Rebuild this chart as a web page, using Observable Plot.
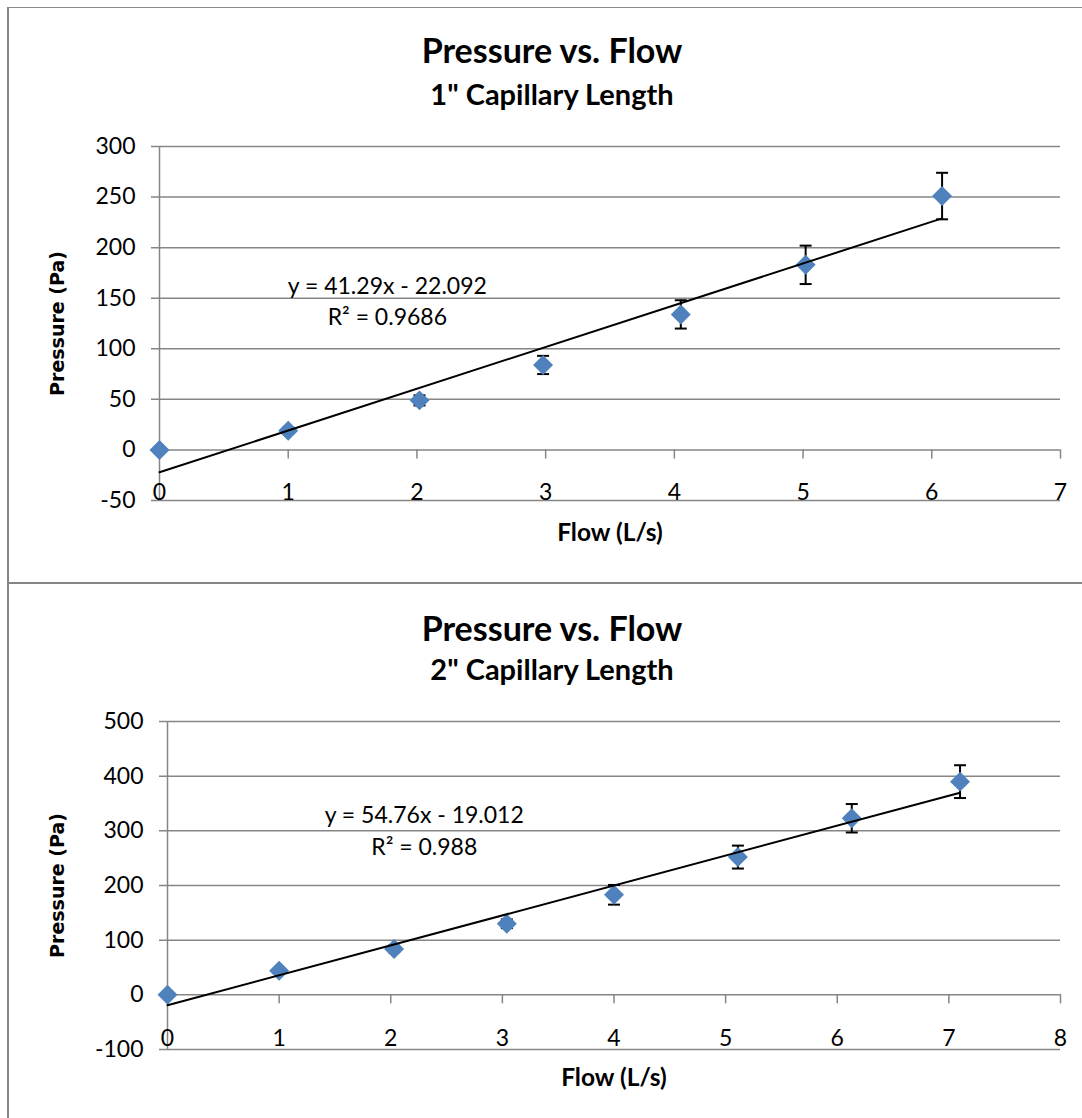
<!DOCTYPE html>
<html><head><meta charset="utf-8">
<script src="https://cdn.jsdelivr.net/npm/d3@7"></script>
<script src="https://cdn.jsdelivr.net/npm/@observablehq/plot@0.6"></script>
<style>
body{margin:0;background:#fff;font-family:Lato,sans-serif;}
#page{position:relative;width:1082px;height:1118px;overflow:hidden;background:#fff;}
.frame{position:absolute;left:7px;width:1100px;border-left:2px solid #868686;}
.title{position:absolute;left:8px;width:1088px;text-align:center;font-weight:bold;color:#000;white-space:nowrap;}
.t1{font-size:34px;line-height:40px;}
.t2{font-size:29px;line-height:34px;}
.chart{position:absolute;left:0;}
.chart svg{display:block;}
</style></head><body><div id="page"></div>
<script>
// ---- Chart 1 data: 1" capillary ----
const flow1 = [0, 1.0, 2.02, 2.98, 4.05, 5.02, 6.08];
const pressure1 = [0, 19, 49, 84, 134, 183, 251];
const error1 = [0, 3, 5, 9, 14, 19, 23];
const slope1 = 41.29, intercept1 = -22.092;
const equation1 = ["y = 41.29x - 22.092", "R² = 0.9686"];
const xTicks1 = [0, 1, 2, 3, 4, 5, 6, 7];
const yTicks1 = [-50, 0, 50, 100, 150, 200, 250, 300];
const title1 = "Pressure vs. Flow";
const subtitle1 = "1\" Capillary Length";

// ---- Chart 2 data: 2" capillary ----
const flow2 = [0, 1.0, 2.03, 3.04, 4.0, 5.11, 6.13, 7.10];
const pressure2 = [0, 44, 84, 130, 183, 252, 323, 390];
const error2 = [0, 4, 6, 8, 18, 21, 26, 30];
const slope2 = 54.76, intercept2 = -19.012;
const equation2 = ["y = 54.76x - 19.012", "R² = 0.988"];
const xTicks2 = [0, 1, 2, 3, 4, 5, 6, 7, 8];
const yTicks2 = [-100, 0, 100, 200, 300, 400, 500];
const title2 = "Pressure vs. Flow";
const subtitle2 = "2\" Capillary Length";

const xLabel = "Flow (L/s)";
const yLabel = "Pressure (Pa)";

const GRID = "#868686";
const BLUE = "#4F81BD";

const tickShape = {draw(ctx, l) { ctx.moveTo(0, 0); ctx.lineTo(0, -l); }};
const capSymbol = {draw(ctx) { ctx.moveTo(-6, 0); ctx.lineTo(6, 0); }};

function makeChart(cfg) {
  const pts = cfg.flow.map((x, i) => ({x, y: cfg.pressure[i], e: cfg.error[i]}));
  const caps = pts.filter(d => d.e > 0).flatMap(d => [{x: d.x, y: d.y - d.e}, {x: d.x, y: d.y + d.e}]);
  const xEnd = d3.max(cfg.flow);
  const trend = [0, xEnd].map(x => ({x, y: cfg.slope * x + cfg.intercept}));
  return Plot.plot({
    width: 1082, height: cfg.height,
    marginTop: cfg.mt, marginBottom: cfg.mb, marginLeft: cfg.ml, marginRight: 22,
    x: {domain: [cfg.xTicks[0], cfg.xTicks[cfg.xTicks.length - 1]], axis: null},
    y: {domain: [cfg.yTicks[0], cfg.yTicks[cfg.yTicks.length - 1]], axis: null},
    style: {fontFamily: "Lato, sans-serif", background: "transparent", overflow: "visible"},
    marks: [
      Plot.ruleY(cfg.yTicks, {y: d => d, stroke: GRID, strokeWidth: 1.5, insetLeft: -8}),
      Plot.ruleX([0], {x: d => d, stroke: GRID, strokeWidth: 1.5}),
      Plot.vector(cfg.xTicks, {x: d => d, y: () => 0, length: 8, rotate: 180, anchor: "start", shape: tickShape, stroke: GRID, strokeWidth: 1.5}),
      Plot.text(cfg.yTicks, {y: d => d, text: d => String(d), frameAnchor: "left", textAnchor: "end", lineAnchor: "middle", dx: -24, fontSize: 23, fill: "#000"}),
      Plot.text(cfg.xTicks, {x: d => d, text: d => String(d), frameAnchor: "bottom", textAnchor: "middle", lineAnchor: "middle", dy: cfg.xTickDy, fontSize: 23, fill: "#000"}),
      Plot.ruleX(pts.filter(d => d.e > 0), {x: "x", y1: d => d.y - d.e, y2: d => d.y + d.e, stroke: "#000", strokeWidth: 2}),
      Plot.dot(caps, {x: "x", y: "y", symbol: capSymbol, fill: "none", stroke: "#000", strokeWidth: 2}),
      Plot.dot(pts, {x: "x", y: "y", symbol: "diamond2", r: 9, fill: BLUE, stroke: "none"}),
      Plot.line(trend, {x: "x", y: "y", stroke: "#000", strokeWidth: 2}),
      Plot.text([cfg.equation.join("\n")], {x: cfg.eqX, y: cfg.eqY, text: d => d, fontSize: 23, lineHeight: cfg.eqLH, fill: "#000"}),
      Plot.text([xLabel], {frameAnchor: "bottom", textAnchor: "middle", lineAnchor: "middle", dy: cfg.xLabDy, text: d => d, fontSize: 24.5, fontWeight: "bold", fill: "#000"}),
      Plot.text([yLabel], {frameAnchor: "left", textAnchor: "middle", lineAnchor: "middle", dx: 57 - cfg.ml, rotate: -90, text: d => d, fontSize: 19, fontWeight: "bold", fontFamily: "DejaVu Sans", fill: "#000"})
    ]
  });
}

const page = document.getElementById("page");
function addDiv(cls, top, height, text) {
  const d = document.createElement("div");
  d.className = cls;
  d.style.top = top + "px";
  if (height != null) d.style.height = height + "px";
  if (text != null) d.textContent = text;
  page.appendChild(d);
  return d;
}
const f1 = addDiv("frame", 7, 575); f1.style.borderTop = "1px solid #8a8a8a";
const f2 = addDiv("frame", 582, 540); f2.style.borderTop = "2px solid #868686";

addDiv("title t1", 30, null, title1);
addDiv("title t2", 77, null, subtitle1);
addDiv("title t1", 608, null, title2);
addDiv("title t2", 652, null, subtitle2);

const c1 = addDiv("chart", 120);
c1.appendChild(makeChart({
  flow: flow1, pressure: pressure1, error: error1, slope: slope1, intercept: intercept1,
  equation: equation1, xTicks: xTicks1, yTicks: yTicks1,
  height: 462, mt: 26, mb: 82, ml: 159, xTickDy: -8, xLabDy: 33,
  eqX: 1.77, eqY: 149, eqLH: 1.35
}));
const c2 = addDiv("chart", 690);
c2.appendChild(makeChart({
  flow: flow2, pressure: pressure2, error: error2, slope: slope2, intercept: intercept2,
  equation: equation2, xTicks: xTicks2, yTicks: yTicks2,
  height: 428, mt: 31, mb: 69, ml: 167, xTickDy: -11, xLabDy: 29,
  eqX: 2.30, eqY: 303, eqLH: 1.39
}));
</script></body></html>
